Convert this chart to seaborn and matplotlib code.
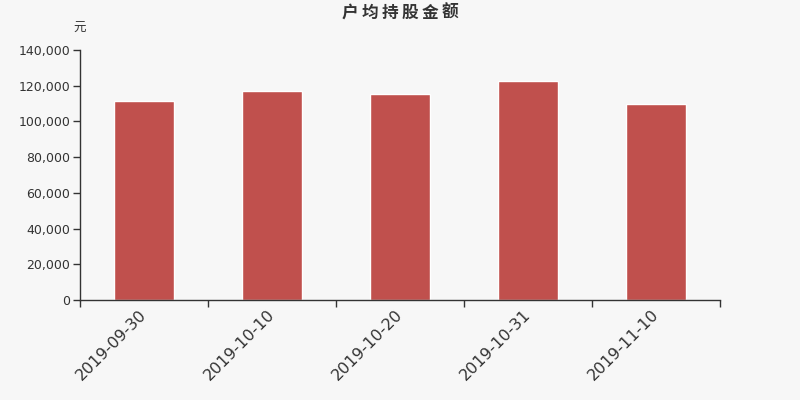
import pandas as pd
import seaborn as sns
import matplotlib.pyplot as plt
from matplotlib.ticker import FuncFormatter, FixedLocator

# data
dates = ['2019-09-30', '2019-10-10', '2019-10-20', '2019-10-31', '2019-11-10']
amounts = [111400, 117000, 115400, 122800, 109800]
title = '户均持股金额'

bg = '#f7f7f7'
bar_color = '#c0504d'
axis_color = '#333333'

sns.set_theme(style='white')
plt.rcParams['font.family'] = ['DejaVu Sans', 'Noto Sans CJK SC']

df = pd.DataFrame({'date': dates, 'amount': amounts})

fig = plt.figure(figsize=(8, 4), dpi=100, facecolor=bg)
ax = fig.add_axes([0.1, 0.25, 0.8, 0.625], facecolor=bg)

sns.barplot(data=df, x='date', y='amount', color=bar_color, saturation=1,
            width=0.47, ax=ax)

ax.set_xlim(-0.5, len(dates) - 0.5)
ax.set_ylim(0, 140000)
ax.yaxis.set_major_locator(FixedLocator(range(0, 140001, 20000)))
ax.yaxis.set_major_formatter(FuncFormatter(lambda v, p: f'{int(v):,}'))

# tick marks at category borders, labels at category centres
ax.set_xticks([i - 0.5 for i in range(len(dates) + 1)])
ax.set_xticklabels([''] * (len(dates) + 1))
ax.set_xticks(range(len(dates)), minor=True)
ax.set_xticklabels(dates, minor=True, rotation=45, ha='right', va='center',
                   rotation_mode='anchor', fontsize=11.5, color=axis_color)
ax.tick_params(axis='x', which='minor', length=0, pad=9)
ax.tick_params(axis='x', which='major', length=5, width=1, color=axis_color,
               direction='out', bottom=True)
ax.tick_params(axis='y', length=5, width=1, color=axis_color, direction='out',
               left=True, labelsize=9, labelcolor=axis_color, pad=2)

for side in ['top', 'right']:
    ax.spines[side].set_visible(False)
for side in ['left', 'bottom']:
    ax.spines[side].set_color(axis_color)
    ax.spines[side].set_linewidth(1)

ax.set_xlabel('')
ax.set_ylabel('')
ax.grid(False)

# title drawn with letter spacing, one character at a time
pitch = 20 / 800
x0 = 0.5 - pitch * (len(title) - 1) / 2
for i, ch in enumerate(title):
    fig.text(x0 + i * pitch, 0.968, ch, ha='center', va='center', fontsize=12,
             fontweight='bold', color=axis_color)
fig.text(0.1, 0.93, '元', ha='center', va='center', fontsize=9, color=axis_color)

fig.savefig('out.png', dpi=100, facecolor=bg)
